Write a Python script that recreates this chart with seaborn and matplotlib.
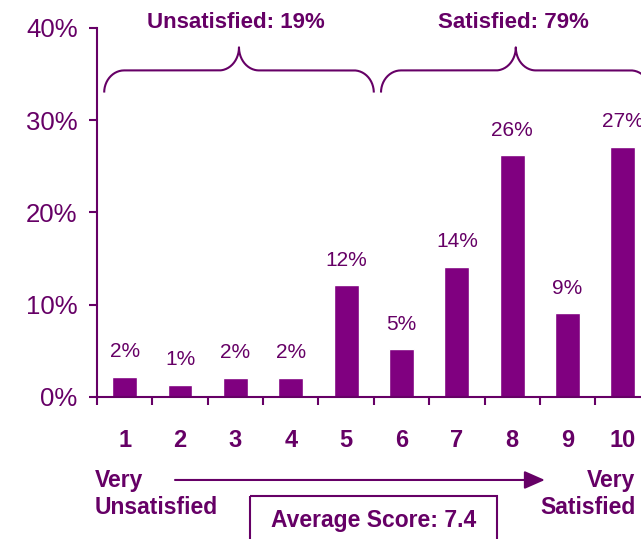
import numpy as np
import pandas as pd
import seaborn as sns
import matplotlib.pyplot as plt
from matplotlib.patches import Rectangle

# data
scores = ["1", "2", "3", "4", "5", "6", "7", "8", "9", "10"]
pct = [2.2, 1.3, 2.1, 2.1, 12.1, 5.2, 14.1, 26.2, 9.1, 27.1]
pct_labels = ["2%", "1%", "2%", "2%", "12%", "5%", "14%", "26%", "9%", "27%"]
group_names = ["Unsatisfied: 19%", "Satisfied: 79%"]
group_ranges = [(0, 4), (5, 9)]
avg_score = 7.4

BAR = "#800080"
TXT = "#660066"

sns.set_style("white")
plt.rcParams["font.family"] = ["Liberation Sans", "DejaVu Sans"]

df = pd.DataFrame({"score": scores, "pct": pct})

fig = plt.figure(figsize=(6.41, 5.39), dpi=100)
ax = fig.add_axes([0.1513, 0.2635, 0.8637, 0.6846])

sns.barplot(data=df, x="score", y="pct", color=BAR, saturation=1, width=0.45, ax=ax)

ax.set_xlim(-0.5, 9.5)
ax.set_ylim(0, 40)
ax.set_xlabel("")
ax.set_ylabel("")

# spines
for s in ["top", "right"]:
    ax.spines[s].set_visible(False)
for s in ["left", "bottom"]:
    ax.spines[s].set_color(TXT)
    ax.spines[s].set_linewidth(1.5)

# y axis
ax.set_yticks([0, 10, 20, 30, 40])
ax.set_yticklabels([f"{v}%" for v in [0, 10, 20, 30, 40]])
ax.tick_params(axis="y", length=6, width=1.5, color=TXT, direction="out",
               labelsize=18.5, labelcolor=TXT, pad=8, left=True)

# x axis: labels at bar centers, ticks between bars
ax.set_xticks(range(len(scores)))
ax.set_xticklabels(scores, fontweight="bold")
ax.set_xticks(np.arange(-0.5, len(scores), 1), minor=True)
ax.tick_params(axis="x", which="major", length=0, pad=23, labelsize=17, labelcolor=TXT)
ax.tick_params(axis="x", which="minor", length=6, width=1.5, color=TXT,
               direction="out", bottom=True)

# value labels
for i, (v, lab) in enumerate(zip(pct, pct_labels)):
    ax.annotate(lab, xy=(i, v), xytext=(0, 18), textcoords="offset points",
                ha="center", va="center", fontsize=15, color=TXT)


def brace(ax, x0, x1, y, rx, ry_end, ry_mid):
    xm = (x0 + x1) / 2
    t = np.linspace(0, np.pi / 2, 40)
    xs1 = x0 + rx - rx * np.cos(t)
    ys1 = y - ry_end + ry_end * np.sin(t)
    xs2 = xm - rx + rx * np.sin(t)
    ys2 = y + ry_mid - ry_mid * np.cos(t)
    xl = np.concatenate([xs1, xs2])
    yl = np.concatenate([ys1, ys2])
    xs = np.concatenate([xl, 2 * xm - xl[::-1]])
    ys = np.concatenate([yl, yl[::-1]])
    ax.plot(xs, ys, color=TXT, lw=1.5, clip_on=False, solid_capstyle="butt")
    return xm


for name, (a, b) in zip(group_names, group_ranges):
    xm = brace(ax, a - 0.37, b + 0.5, 35.4, 0.36, 2.4, 2.5)
    ax.text(xm - 0.05, 40.6, name, ha="center", va="center", fontsize=16,
            fontweight="bold", color=TXT)

# arrow and end labels
fig.add_artist(plt.Annotation("", xy=(0.850, 0.1095), xytext=(0.273, 0.1095),
                              xycoords="figure fraction", textcoords="figure fraction",
                              arrowprops=dict(arrowstyle="-|>,head_length=0.5,head_width=0.22",
                                              color=TXT, lw=1.5, mutation_scale=25,
                                              shrinkA=0, shrinkB=0)))
fig.text(0.148, 0.0835, "Very\nUnsatisfied", ha="left", va="center",
         multialignment="left", fontsize=16.5, fontweight="bold", color=TXT, linespacing=1.2)
fig.text(0.991, 0.0835, "Very\nSatisfied", ha="right", va="center",
         multialignment="right", fontsize=16.5, fontweight="bold", color=TXT, linespacing=1.2)

# average score box
fig.add_artist(Rectangle((250 / 641, 1 - 496 / 539), 247 / 641, -0.2,
                         transform=fig.transFigure, fill=False, ec=TXT, lw=1.5,
                         clip_on=False))
fig.text(0.583, 0.0334, f"Average Score: {avg_score}", ha="center", va="center",
         fontsize=16.5, fontweight="bold", color=TXT)

fig.savefig("out.png", dpi=100)
